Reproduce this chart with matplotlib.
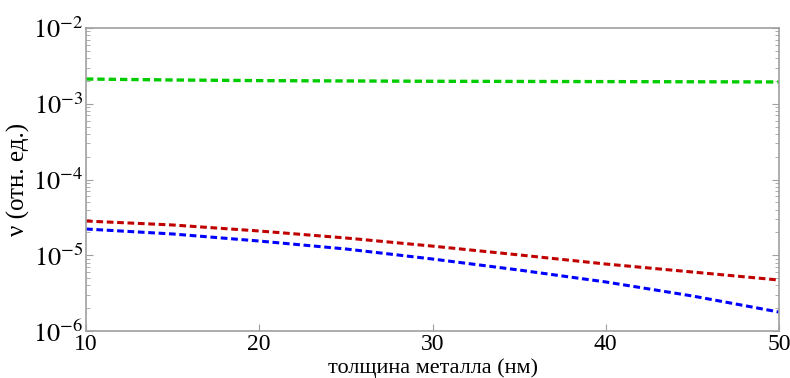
import matplotlib
matplotlib.use("Agg")
import matplotlib.pyplot as plt
from matplotlib.ticker import LogLocator, FixedLocator, FuncFormatter, NullFormatter
import numpy as np

plt.rcParams['font.family'] = ['Liberation Serif', 'DejaVu Serif']
plt.rcParams['mathtext.fontset'] = 'stix'

thickness = [10, 15, 20, 25, 30, 35, 40, 45, 50]
green = [2.12e-3, 2.06e-3, 2.02e-3, 2.00e-3, 1.98e-3, 1.97e-3, 1.96e-3, 1.95e-3, 1.94e-3]
red = [2.83e-5, 2.51e-5, 2.09e-5, 1.69e-5, 1.32e-5, 1.01e-5, 7.66e-6, 6.01e-6, 4.71e-6]
blue = [2.22e-5, 1.91e-5, 1.54e-5, 1.21e-5, 8.92e-6, 6.38e-6, 4.44e-6, 2.90e-6, 1.78e-6]
xticks = [10, 20, 30, 40, 50]
xlabel = "толщина металла (нм)"
ylabel = "ν (отн. ед.)"

fig = plt.figure(figsize=(7.9, 3.78), dpi=100)
ax = fig.add_axes([86/790, 1-331/378, (779-86)/790, (331-28)/378])

dash = (0, (2.2, 1.2))
ax.plot(thickness, green, color='#00cc00', lw=2.4, linestyle=dash)
ax.plot(thickness, red, color='#c00000', lw=2.2, linestyle=dash)
ax.plot(thickness, blue, color='#0000ff', lw=2.2, linestyle=dash)

ax.set_yscale('log')
ax.set_xlim(10, 50)
ax.set_ylim(1e-6, 1e-2)
ax.xaxis.set_major_locator(FixedLocator(xticks))
ax.yaxis.set_major_locator(LogLocator(base=10, numticks=10))
ax.yaxis.set_minor_locator(LogLocator(base=10, subs=np.arange(2, 10), numticks=10))
ax.yaxis.set_minor_formatter(NullFormatter())
ax.yaxis.set_major_formatter(FuncFormatter(lambda v, p: r"$\mathrm{10}^{%d}$" % int(round(np.log10(v)))))

for s in ax.spines.values():
    s.set_color('#a0a0a0')
    s.set_linewidth(1.2)
ax.tick_params(which='both', direction='in', color='#a0a0a0', top=False, right=True, pad=2)
ax.tick_params(axis='y', labelsize=19)
ax.tick_params(axis='x', labelsize=17, pad=2)
ax.tick_params(which='major', length=5)
ax.tick_params(which='minor', length=3)

ax.set_xlabel(xlabel, fontsize=16)
ax.xaxis.label.set_va('bottom')
ax.xaxis.set_label_coords(0.5 * (86 + 779) / 790, 0.5 / 378, transform=fig.transFigure)
ax.set_ylabel(ylabel, fontsize=18, labelpad=2)

fig.savefig("out.png", dpi=100)
